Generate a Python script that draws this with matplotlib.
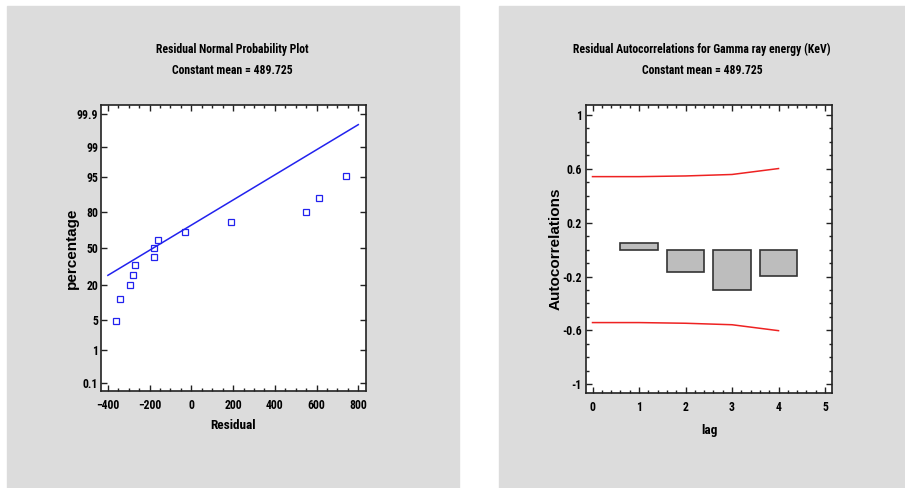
import numpy as np
import matplotlib.pyplot as plt
from matplotlib.patches import Rectangle
from statistics import NormalDist

plt.rcParams['font.family'] = ['Roboto Condensed', 'DejaVu Sans']
plt.rcParams['font.weight'] = 'bold'

# residual normal probability plot
residuals = [-360, -341, -296, -279, -269, -181, -177, -157.5, -30, 190, 548, 612, 739]
pct = [4.7, 12.3, 19.8, 27.4, 35.0, 42.5, 50.0, 57.5, 65.0, 72.6, 80.2, 87.7, 95.3]
line_x = [-400, 800]
line_pct = [26.8, 99.78]
pct_ticks = [0.1, 1, 5, 20, 50, 80, 95, 99, 99.9]
pct_labels = ["0.1", "1", "5", "20", "50", "80", "95", "99", "99.9"]

# residual autocorrelations
lags = [1, 2, 3, 4]
acf = [0.047, -0.163, -0.298, -0.197]
lim_lags = [0, 1, 2, 3, 4]
upper_lim = [0.542, 0.542, 0.547, 0.558, 0.602]

nd = NormalDist()
def z(p):
    return [nd.inv_cdf(v / 100.0) for v in p]

W, H = 905, 488
fig = plt.figure(figsize=(W / 100, H / 100), dpi=100)

def px_axes(l, t, r, b):
    return fig.add_axes([l / W, (H - b) / H, (r - l) / W, (b - t) / H])

# gray panels
gray = '#dcdcdc'
fig.patches.append(Rectangle((7 / W, 0), (459 - 7) / W, (H - 6) / H,
                             transform=fig.transFigure, color=gray, zorder=-10))
fig.patches.append(Rectangle((499 / W, 0), (W - 499) / W, (H - 6) / H,
                             transform=fig.transFigure, color=gray, zorder=-10))

fs = 8.5
ylab_font = dict(fontsize=11, fontweight='bold', family='Liberation Sans')

def style(ax, ypad):
    ax.tick_params(which='both', direction='in', top=True, right=True,
                   labelsize=fs, width=1, color='#222222')
    ax.tick_params(axis='x', which='both', pad=6)
    ax.tick_params(axis='y', which='both', pad=ypad)
    ax.tick_params(which='major', length=4)
    ax.tick_params(which='minor', length=2)
    for s in ax.spines.values():
        s.set_linewidth(1.2)
        s.set_color('#222222')
    for lab in ax.get_xticklabels() + ax.get_yticklabels():
        lab.set_fontweight('bold')

# left plot
ax1 = px_axes(101, 105, 366, 391)
ax1.plot(line_x, z(line_pct), color='#2222ee', lw=1.1)
ax1.plot(residuals, z(pct), linestyle='none', marker='s', markersize=4,
         markerfacecolor='none', markeredgecolor='#2222ee', markeredgewidth=0.9)
ax1.set_xlim(-433, 837)
ax1.set_ylim(-3.28, 3.30)
ax1.set_xticks([-400, -200, 0, 200, 400, 600, 800])
ax1.set_xticks(np.arange(-400, 801, 50), minor=True)
ax1.set_yticks(z(pct_ticks))
ax1.set_yticklabels(pct_labels)
style(ax1, 2)
ax1.set_xlabel("Residual", fontsize=fs + 1, fontweight='bold', labelpad=5)
ax1.set_ylabel("percentage", labelpad=-1.5, **ylab_font)
fig.text(232 / W, 1 - 49 / H, "Residual Normal Probability Plot", ha='center',
         va='center', fontsize=fs, fontweight='bold')
fig.text(232 / W, 1 - 71 / H, "Constant mean = 489.725", ha='center',
         va='center', fontsize=fs, fontweight='bold')

# right plot
ax2 = px_axes(586, 105, 832, 393)
ax2.bar(lags, acf, width=0.8, color='#bdbdbd', edgecolor='#333333', linewidth=1.2)
ax2.plot(lim_lags, upper_lim, color='#ee2222', lw=1.1)
ax2.plot(lim_lags, [-v for v in upper_lim], color='#ee2222', lw=1.1)
ax2.set_xlim(-0.14, 5.15)
ax2.set_ylim(-1.065, 1.074)
ax2.set_xticks([0, 1, 2, 3, 4, 5])
ax2.set_xticks(np.arange(0, 5.01, 0.2), minor=True)
ax2.set_yticks([-1, -0.6, -0.2, 0.2, 0.6, 1])
ax2.set_yticklabels(["-1", "-0.6", "-0.2", "0.2", "0.6", "1"])
ax2.set_yticks(np.arange(-1, 1.01, 0.1), minor=True)
style(ax2, 3)
ax2.set_xlabel("lag", fontsize=fs + 1, fontweight='bold', labelpad=7)
ax2.set_ylabel("Autocorrelations", labelpad=-0.5, **ylab_font)
fig.text(702 / W, 1 - 49 / H, "Residual Autocorrelations for Gamma ray energy (KeV)",
         ha='center', va='center', fontsize=fs, fontweight='bold')
fig.text(702 / W, 1 - 71 / H, "Constant mean = 489.725", ha='center',
         va='center', fontsize=fs, fontweight='bold')

fig.savefig("out.png", dpi=100)
